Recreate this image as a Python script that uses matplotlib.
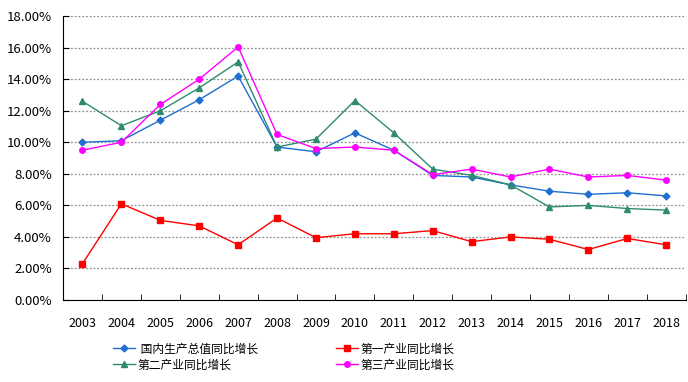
import numpy as np
import matplotlib
matplotlib.use("Agg")
import matplotlib.pyplot as plt
from matplotlib.ticker import FuncFormatter

plt.rcParams['font.family'] = ['Noto Sans CJK SC', 'DejaVu Sans']

years = [str(y) for y in range(2003, 2019)]
gdp = [10.0, 10.1, 11.4, 12.7, 14.2, 9.7, 9.4, 10.6, 9.5, 7.9, 7.8, 7.3, 6.9, 6.7, 6.8, 6.6]
primary = [2.3, 6.1, 5.05, 4.7, 3.5, 5.2, 3.95, 4.2, 4.2, 4.4, 3.7, 4.0, 3.85, 3.2, 3.9, 3.5]
secondary = [12.6, 11.05, 12.0, 13.45, 15.1, 9.7, 10.2, 12.65, 10.6, 8.3, 7.9, 7.3, 5.9, 6.0, 5.8, 5.7]
tertiary = [9.5, 10.0, 12.4, 14.0, 16.05, 10.5, 9.6, 9.7, 9.5, 7.95, 8.3, 7.8, 8.3, 7.8, 7.9, 7.6]
labels = [" 国内生产总值同比增长", "第一产业同比增长", "第二产业同比增长", "第三产业同比增长"]

fig = plt.figure(figsize=(6.88, 3.82), dpi=100)
ax = fig.add_axes([0.0916, 0.2147, 0.905, 0.743])

x = np.arange(len(years))
l1, = ax.plot(x, gdp, color="#1f6fd0", marker="D", markersize=3.5, lw=1.0)
l2, = ax.plot(x, primary, color="#ff0000", marker="s", markersize=4.5, lw=1.0)
l3, = ax.plot(x, secondary, color="#2e8b6e", marker="^", markersize=5, lw=1.0)
l4, = ax.plot(x, tertiary, color="#ff00ff", marker="o", markersize=4, lw=1.0)

ax.set_xlim(-0.5, len(years) - 0.5)
ax.set_ylim(0, 18)
ax.set_yticks(np.arange(0, 19, 2))
ax.yaxis.set_major_formatter(FuncFormatter(lambda v, p: f"{v:.2f}%"))
ax.set_xticks(x)
ax.set_xticklabels(years)
ax.set_xticks(np.arange(-0.5, len(years), 1), minor=True)
ax.tick_params(axis="x", which="major", length=0, pad=12, labelsize=9)
ax.tick_params(axis="x", which="minor", length=4, direction="in", color="black")
ax.tick_params(axis="y", length=4, direction="in", labelsize=9.5, pad=8)

ax.grid(axis="y", linestyle=(0, (1.5, 1.5)), color="#909090", lw=0.9)
ax.set_axisbelow(True)
for s in ["top", "right"]:
    ax.spines[s].set_visible(False)
ax.spines["left"].set_color("black")
ax.spines["bottom"].set_color("black")

fig.legend([l1, l3, l2, l4], [labels[0], labels[2], labels[1], labels[3]],
           ncol=2, loc="lower left", bbox_to_anchor=(0.164, 0.028),
           frameon=False, fontsize=8.5, handlelength=1.9, handletextpad=0.2,
           columnspacing=6.6, labelspacing=0.25, borderpad=0, borderaxespad=0)

fig.savefig("out.png", dpi=100)
